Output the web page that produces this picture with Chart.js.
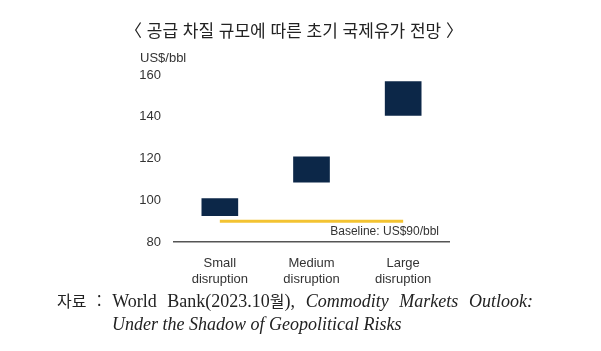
<!DOCTYPE html>
<html lang="ko">
<head>
    <meta charset="UTF-8">
    <title>공급 차질 규모에 따른 초기 국제유가 전망</title>
    <script src="https://cdn.jsdelivr.net/npm/chart.js"></script>
    <style>
        body { margin: 0; background: #fff; }
        #wrap { position: relative; width: 601px; height: 351px; overflow: hidden; }
        #title {
            position: absolute; left: 125px; top: 17px; width: 330px;
            text-align: justify; text-align-last: justify;
            font-family: 'Noto Sans CJK KR', sans-serif; font-size: 17px; color: #222;
        }
        #source {
            position: absolute; left: 57px; top: 289px; width: 476px;
            font-family: 'Liberation Serif', 'Noto Sans CJK KR', serif; font-size: 18px; color: #222;
            line-height: 23px;
        }
        #source .l1 { text-align: justify; text-align-last: justify; }
        #source .l2 { padding-left: 55px; }
        #source .ko { font-family: 'Noto Sans CJK KR', sans-serif; font-size: 16px; }
        #chart { position: absolute; left: 0; top: 0; }
    </style>
</head>
<body>
<div id="wrap">
    <canvas id="chart" width="601" height="351"></canvas>
    <div id="title">〈 공급 차질 규모에 따른 초기 국제유가 전망 〉</div>
    <div id="source">
        <div class="l1"><span class="ko">자료 :</span> World Bank(2023.10<span class="ko">월</span>), <i>Commodity Markets Outlook:</i></div>
        <div class="l2"><i>Under the Shadow of Geopolitical Risks</i></div>
    </div>
</div>

<script>
    // data
    const categories = [['Small', 'disruption'], ['Medium', 'disruption'], ['Large', 'disruption']];
    const rangeLow = [92.5, 108.5, 140.5];
    const rangeHigh = [101, 121, 157];
    const baseline = [90, 90, 90];
    const yTicks = [80, 100, 120, 140, 160];

    const textFont = "'Liberation Sans', Arial, sans-serif";

    const extraText = {
        id: 'extraText',
        afterDraw(chart) {
            const ctx = chart.ctx;
            const x = chart.scales.x, y = chart.scales.y;
            ctx.save();
            ctx.fillStyle = '#333';
            ctx.font = '13px ' + textFont;
            ctx.textAlign = 'left';
            ctx.textBaseline = 'middle';
            ctx.fillText('US$/bbl', 140, chart.chartArea.top - 17);
            ctx.font = '12px ' + textFont;
            ctx.textAlign = 'right';
            ctx.fillText('Baseline: US$90/bbl', x.right - 10, y.getPixelForValue(baseline[0]) + 11);
            ctx.restore();
        }
    };

    new Chart(document.getElementById('chart'), {
        data: {
            labels: categories,
            datasets: [{
                type: 'bar',
                data: rangeLow.map((v, i) => [v, rangeHigh[i]]),
                backgroundColor: '#0c2748',
                barPercentage: 0.4,
                categoryPercentage: 1,
                order: 1
            }, {
                type: 'line',
                data: baseline,
                borderColor: '#f3c332',
                borderWidth: 3,
                pointRadius: 0,
                order: 2
            }]
        },
        options: {
            responsive: false,
            animation: false,
            layout: { padding: { left: 0, top: 75, right: 152, bottom: 60 } },
            plugins: { legend: { display: false }, tooltip: { enabled: false } },
            scales: {
                x: {
                    grid: { display: false },
                    border: { display: true, color: '#555', width: 1.5 },
                    ticks: { color: '#333', font: { family: textFont, size: 13 }, padding: 6, maxRotation: 0 },
                    afterFit(s) { s.height = 49; }
                },
                y: {
                    min: 80, max: 160,
                    grid: { display: false },
                    border: { display: false },
                    afterBuildTicks(s) { s.ticks = yTicks.map(v => ({ value: v })); },
                    ticks: { color: '#333', font: { family: textFont, size: 13 }, padding: 5 },
                    afterFit(s) { s.width = 174; }
                }
            }
        },
        plugins: [extraText]
    });
</script>
</body>
</html>
